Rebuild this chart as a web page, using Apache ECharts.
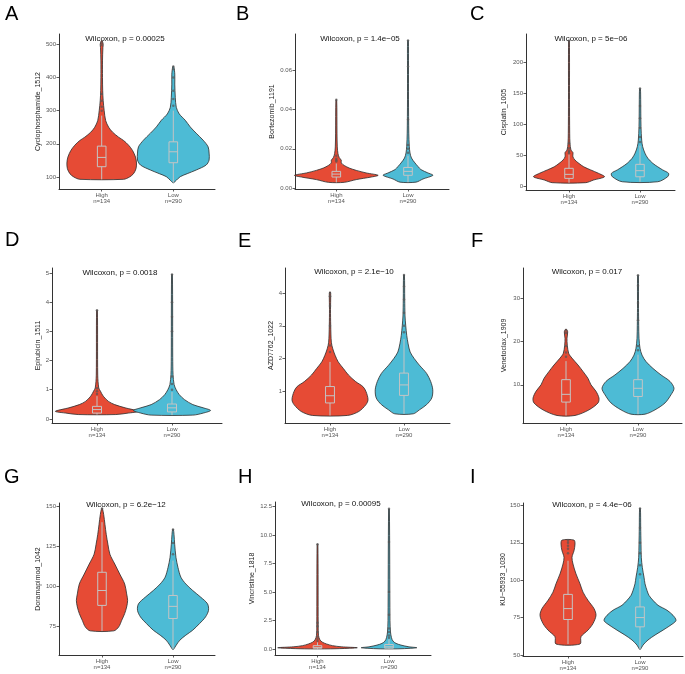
<!DOCTYPE html>
<html><head><meta charset="utf-8">
<script src="https://cdn.jsdelivr.net/npm/echarts@6/dist/echarts.min.js"></script>
<style>html,body{margin:0;padding:0;background:#fff}#c{width:685px;height:674px}</style>
</head><body><div id="c"></div>
<script>
// ---------- DATA ----------
const groups = ['High', 'Low'];
const groupN = [134, 290];
const panelLetters = ['A','B','C','D','E','F','G','H','I'];
const drugNames = ['Cyclophosphamide_1512','Bortezomib_1191','Cisplatin_1005','Epirubicin_1511','AZD7762_1022','Venetoclax_1909','Doramapimod_1042','Vincristine_1818','KU\u221255933_1030'];
const pValues = ['0.00025','1.4e\u221205','5e\u221206','0.0018','2.1e\u221210','0.017','6.2e\u221212','0.00095','4.4e\u221206'];
const yTicks = [[100,200,300,400,500],[0,0.02,0.04,0.06],[0,50,100,150,200],[0,1,2,3,4,5],[1,2,3,4],[10,20,30],[75,100,125,150],[0,2.5,5,7.5,10,12.5],[50,75,100,125,150]];
const yDecimals = [0,2,0,0,0,0,0,1,0];
const yRanges = [[63.8,531],[-0.0005,0.0786],[-5.3,245.8],[-0.14,5.17],[0.04,4.76],[1.15,37.1],[57,152],[-0.52,12.9],[49.3,151.6]];

// violin profiles: value (vy) and relative density half-width (vd); box = [lowWhisker,q1,median,q3,highWhisker]
const A_High_vy = [93,100,110,125,142,160,180,196,210,220,235,250,270,300,330,360,400,450,490,500,510];
const A_High_vd = [22,28,32,34.5,35,34,31,27,22,17,11,7,4,2.5,1.5,1,0.8,0.8,1.2,1.5,0.5];
const A_High_box = [93,131,159,193,285];
const A_High_out = [300,312,330,350,498,505];
const A_Low_vy = [83,90,101,110,121,136,151,172,191,211,232,251,271,290,310,340,380,410,433];
const A_Low_vd = [0.5,3,7,14,23,33,36,36,35,30,23,17,12,6,3,2,1.5,1.5,0.5];
const A_Low_box = [83,143,176,206,300];
const A_Low_out = [315,335,360,400,425,433];

const B_High_vy = [0.0029,0.0043,0.0056,0.0065,0.0077,0.009,0.0102,0.0115,0.0128,0.0142,0.0155,0.0175,0.021,0.028,0.045];
const B_High_vd = [8,20,35,42,30,20,13,8,5,5,3,1.7,1,0.7,0.4];
const B_High_box = [0.0029,0.0056,0.0071,0.0085,0.0125];
const B_High_out = [0.0135,0.0142,0.015,0.0165,0.045];
const B_Low_vy = [0.003,0.0046,0.0065,0.0077,0.0094,0.011,0.0128,0.0153,0.0179,0.0213,0.028,0.045,0.062,0.0753];
const B_Low_vd = [8,15,25,20,13,10,7,3.5,2,1.3,0.8,0.5,0.5,0.4];
const B_Low_box = [0.003,0.0065,0.0085,0.0105,0.0165];
const B_Low_out = [0.018,0.02,0.022,0.035,0.062,0.0753];

const C_High_vy = [6.5,10.8,16,21.5,27,32,37.6,43,48,52,55,59,70,86,140,235];
const C_High_vd = [17,25,36,30,22,15,10,6,4,4,4,2,1,0.7,0.5,0.4];
const C_High_box = [6.5,13.4,19.9,29.6,52];
const C_High_out = [54,56,58,62,70,235];
const C_Low_vy = [8,16,21.5,27,32,37.6,45.7,54,64.5,75,97,140,158];
const C_Low_vd = [18,28,29,23,18,13,8,5,2.7,1.7,1,0.7,0.4];
const C_Low_box = [8,16,25.8,36,66];
const C_Low_out = [72,80,95,110,130,158];

const D_High_vy = [0.15,0.2,0.26,0.38,0.49,0.6,0.78,0.95,1.06,1.5,3.72];
const D_High_vd = [18,30,40,27,17,11,6,3.3,1.7,0.7,0.4];
const D_High_box = [0.15,0.2,0.32,0.43,0.78];
const D_High_out = [0.85,0.95,1.05,3.72];
const D_Low_vy = [0.13,0.2,0.29,0.38,0.49,0.66,0.83,1.0,1.18,1.52,2.1,4.95];
const D_Low_vd = [20,30,37,30,20,12,7,4,2,1,0.7,0.4];
const D_Low_box = [0.13,0.24,0.38,0.51,0.92];
const D_Low_out = [1.0,1.2,1.45,3.0,3.5,4.0,4.95];

const E_High_vy = [0.27,0.39,0.6,0.75,1.0,1.15,1.3,1.5,1.7,1.9,2.1,2.3,2.5,3.0,3.5,3.93,4.03];
const E_High_vd = [17,28,35,37,35,32,25,18,13,8,5,2.7,1.3,0.7,0.5,0.7,0.4];
const E_High_box = [0.27,0.65,0.87,1.15,1.9];
const E_High_out = [2.2,2.4,3.0,3.6,3.9,4.0];
const E_Low_vy = [0.32,0.44,0.6,0.8,1.05,1.3,1.55,1.8,2.0,2.2,2.45,2.7,3.0,3.3,3.8,4.55];
const E_Low_vd = [9,15,22,27,28,26,22,15,10,6,4,2.7,1.7,1,0.7,0.4];
const E_Low_box = [0.32,0.88,1.2,1.56,2.6];
const E_Low_out = [2.8,3.0,3.4,3.8,4.2,4.55];

const F_High_vy = [2.9,4.2,5.8,6.9,8.5,10,11.5,13.1,14.6,16.2,17.3,19.2,20.8,22.3,22.9];
const F_High_vd = [9,23,32,33,30,25,22,17,12,6,2.7,1.3,1,1.7,0.5];
const F_High_box = [2.9,6,7.8,11.2,15.5];
const F_High_out = [16.5,17.5,19,22,22.6];
const F_Low_vy = [3.2,4.2,5.8,7.7,9.2,10.8,12.3,13.8,15.4,16.9,18.5,20.8,23.8,27.7,35.4];
const F_Low_vd = [7,17,27,33,36,32,23,15,8,4,2,1,0.7,0.5,0.4];
const F_Low_box = [3.2,7.3,9.2,11.2,17];
const F_Low_out = [18,19,25,29,33,35.4];

const G_High_vy = [72.1,74.6,78.7,82.9,87,91.1,95.2,101.4,107.6,113.8,120,126.2,132.4,138.6,144.8,148.6];
const G_High_vd = [12,17,20,23,25,26,25,23,18,13,8,6,4.3,3,1.7,0.4];
const G_High_box = [72.1,88,97.3,108.7,140];
const G_High_out = [148.6];
const G_Low_vy = [60.5,63.2,66.3,69.4,72.5,76.7,80.8,84.9,89,93.2,97.3,101.4,105.6,111.8,118,126.2,132.4,135.5];
const G_Low_vd = [0.5,3.3,7,13,20,27,33,36,35,28,20,13,8,5,3,1.7,1,0.4];
const G_Low_box = [60.5,79.8,87.4,94.2,116];
const G_Low_out = [120,127,135.5];

const H_High_vy = [0.02,0.07,0.12,0.2,0.3,0.45,0.6,0.8,1.2,2.0,9.2];
const H_High_vd = [13,32,40,24,15,9,5,2.5,1,0.7,0.4];
const H_High_box = [0.02,0.08,0.15,0.3,0.6];
const H_High_out = [0.7,0.9,1.1,1.5,2.0,2.3,9.2];
const H_Low_vy = [0.02,0.07,0.12,0.2,0.35,0.5,0.7,1.0,1.5,2.5,12.3];
const H_Low_vd = [9,22,28,20,12,7,4,2.5,1.5,1,0.4];
const H_Low_box = [0.02,0.08,0.2,0.4,0.85];
const H_Low_out = [1.0,1.2,1.5,1.8,3.0,5.0,9.4,12.3];

const I_High_vy = [57.3,62.2,66.6,71,76.5,81,86.5,92,97.6,104.2,110.8,115.3,119.7,124.1,126.8];
const I_High_vd = [12,13,20,25,28,26,20,15,12,8,5,4,6,7,6];
const I_High_box = [57.3,73.7,81,90.5,113];
const I_High_out = [118,121,123,125,126.5];
const I_Low_vy = [53.8,56.6,60,63.3,66.6,71,73.2,76.5,79.9,83.2,86.5,89.8,93.1,97.6,102,108.6,115.3,124.1,135.2,148];
const I_Low_vd = [0.5,3,8,15,23,33,36,33,27,18,13,9,7,5,4,2.3,1.3,1,0.7,0.4];
const I_Low_box = [53.8,68.8,75,82.1,101];
const I_Low_out = [104,110,118,125,135,148];

const violins = [
  [[A_High_vy,A_High_vd,A_High_box,A_High_out],[A_Low_vy,A_Low_vd,A_Low_box,A_Low_out]],
  [[B_High_vy,B_High_vd,B_High_box,B_High_out],[B_Low_vy,B_Low_vd,B_Low_box,B_Low_out]],
  [[C_High_vy,C_High_vd,C_High_box,C_High_out],[C_Low_vy,C_Low_vd,C_Low_box,C_Low_out]],
  [[D_High_vy,D_High_vd,D_High_box,D_High_out],[D_Low_vy,D_Low_vd,D_Low_box,D_Low_out]],
  [[E_High_vy,E_High_vd,E_High_box,E_High_out],[E_Low_vy,E_Low_vd,E_Low_box,E_Low_out]],
  [[F_High_vy,F_High_vd,F_High_box,F_High_out],[F_Low_vy,F_Low_vd,F_Low_box,F_Low_out]],
  [[G_High_vy,G_High_vd,G_High_box,G_High_out],[G_Low_vy,G_Low_vd,G_Low_box,G_Low_out]],
  [[H_High_vy,H_High_vd,H_High_box,H_High_out],[H_Low_vy,H_Low_vd,H_Low_box,H_Low_out]],
  [[I_High_vy,I_High_vd,I_High_box,I_High_out],[I_Low_vy,I_Low_vd,I_Low_box,I_Low_out]]
];

// ---------- LAYOUT ----------
const layout = [
  {L:59, R:215, T:34, B:189, H:101.7, W:173.3, gap:17, lx:5, ly:4, px:125, py:39},
  {L:295, R:449, T:34, B:189, H:336.3, W:408, gap:19.5, lx:236, ly:4, px:360, py:39},
  {L:526, R:675, T:34, B:190, H:569, W:640, gap:18, lx:470, ly:4, px:591, py:39},
  {L:52, R:222, T:268, B:423, H:97, W:172, gap:9, lx:5, ly:230, px:120, py:273},
  {L:285, R:450, T:268, B:423, H:330, W:404, gap:10, lx:238, ly:231, px:354, py:272},
  {L:523, R:682, T:268, B:423, H:566, W:638, gap:15, lx:471, ly:231, px:587, py:272},
  {L:59, R:215, T:503, B:655, H:102, W:173, gap:17, lx:4, ly:467, px:126, py:505},
  {L:275, R:431, T:502, B:655, H:317.5, W:389, gap:19.5, lx:238, ly:467, px:341, py:504},
  {L:523, R:683, T:503, B:656, H:568, W:640, gap:15, lx:470, ly:467, px:592, py:505}
];
const FONT = '"Liberation Sans", Arial, Helvetica, sans-serif';
const colors = ['#E64B35', '#4DBBD5'];
const K = 1 / 72; // density units -> category units
const BOXW = 0.06;

const grids = [], xAxes = [], yAxes = [], series = [], graphics = [];
layout.forEach((lo, i) => {
  const unit = lo.W - lo.H;
  const xmin = 1 - (lo.H - lo.L) / unit;
  const xmax = 2 + (lo.R - lo.W) / unit;
  grids.push({left: lo.L, top: lo.T, width: lo.R - lo.L, height: lo.B - lo.T});
  xAxes.push({
    type: 'value', gridIndex: i, min: xmin, max: xmax,
    axisLine: {show: true, onZero: false, lineStyle: {color: '#333', width: 1}},
    axisTick: {show: true, customValues: [1, 2], length: 2.5, lineStyle: {color: '#333', width: 0.8}},
    axisLabel: {customValues: [1, 2], fontSize: 6, lineHeight: 6.5, color: '#555', margin: 3, fontFamily: FONT,
      formatter: v => Math.round(v) === 1 ? groups[0] + '\nn=' + groupN[0] : groups[1] + '\nn=' + groupN[1]},
    splitLine: {show: false}
  });
  yAxes.push({
    type: 'value', gridIndex: i, min: yRanges[i][0], max: yRanges[i][1],
    name: drugNames[i], nameLocation: 'middle', nameGap: lo.gap,
    nameTextStyle: {fontSize: 7, color: '#222', fontFamily: FONT},
    axisLine: {show: true, onZero: false, lineStyle: {color: '#333', width: 1}},
    axisTick: {show: true, customValues: yTicks[i], length: 2.5, lineStyle: {color: '#333', width: 0.8}},
    axisLabel: {customValues: yTicks[i], fontSize: 6, color: '#555', margin: 3, fontFamily: FONT,
      formatter: v => v.toFixed(yDecimals[i])},
    splitLine: {show: false}
  });
  series.push({
    type: 'custom', xAxisIndex: i, yAxisIndex: i, silent: true, clip: false,
    data: [[1, 0], [2, 1]],
    renderItem: function (params, api) {
      const g = params.dataIndex;
      const [vy, vd, box] = violins[i][g];
      const x = g + 1;
      const pts = [];
      for (let k = 0; k < vy.length; k++) pts.push(api.coord([x + vd[k] * K, vy[k]]));
      for (let k = vy.length - 1; k >= 0; k--) pts.push(api.coord([x - vd[k] * K, vy[k]]));
      const c = (xx, yy) => api.coord([xx, yy]);
      const q1L = c(x - BOXW, box[1]), q3R = c(x + BOXW, box[3]);
      const medL = c(x - BOXW, box[2]), medR = c(x + BOXW, box[2]);
      const wl0 = c(x, box[0]), wl1 = c(x, box[1]), wh0 = c(x, box[3]), wh1 = c(x, box[4]);
      const bst = {stroke: '#c4c4c4', lineWidth: 1, fill: null};
      return {type: 'group', children: [
        {type: 'polygon', shape: {points: pts, smooth: 0.3}, style: {fill: colors[g], stroke: '#2b2b2b', lineWidth: 0.8}},
        {type: 'line', shape: {x1: wl0[0], y1: wl0[1], x2: wl1[0], y2: wl1[1]}, style: bst},
        {type: 'line', shape: {x1: wh0[0], y1: wh0[1], x2: wh1[0], y2: wh1[1]}, style: bst},
        {type: 'rect', shape: {x: q1L[0], y: q3R[1], width: q3R[0] - q1L[0], height: q1L[1] - q3R[1]}, style: {stroke: '#c4c4c4', lineWidth: 1, fill: 'rgba(0,0,0,0)'}},
        {type: 'line', shape: {x1: medL[0], y1: medL[1], x2: medR[0], y2: medR[1]}, style: bst}
      ]};
    }
  });
  const outData = [];
  violins[i][0][3].forEach(v => outData.push([1, v]));
  violins[i][1][3].forEach(v => outData.push([2, v]));
  series.push({
    type: 'scatter', xAxisIndex: i, yAxisIndex: i, silent: true, z: 3,
    symbolSize: 2.5, itemStyle: {color: '#555', opacity: 0.7}, data: outData
  });
  graphics.push({type: 'text', left: lo.lx, top: lo.ly, style: {text: panelLetters[i], font: '20px ' + FONT, fill: '#000'}});
  graphics.push({type: 'text', x: lo.px, y: lo.py, style: {text: 'Wilcoxon, p = ' + pValues[i], font: '8px ' + FONT, fill: '#111', textAlign: 'center', textVerticalAlign: 'middle'}});
});

const chart = echarts.init(document.getElementById('c'), null, {renderer: 'canvas'});
chart.setOption({
  animation: false,
  textStyle: {fontFamily: FONT},
  grid: grids, xAxis: xAxes, yAxis: yAxes, series: series, graphic: graphics
});
</script></body></html>
